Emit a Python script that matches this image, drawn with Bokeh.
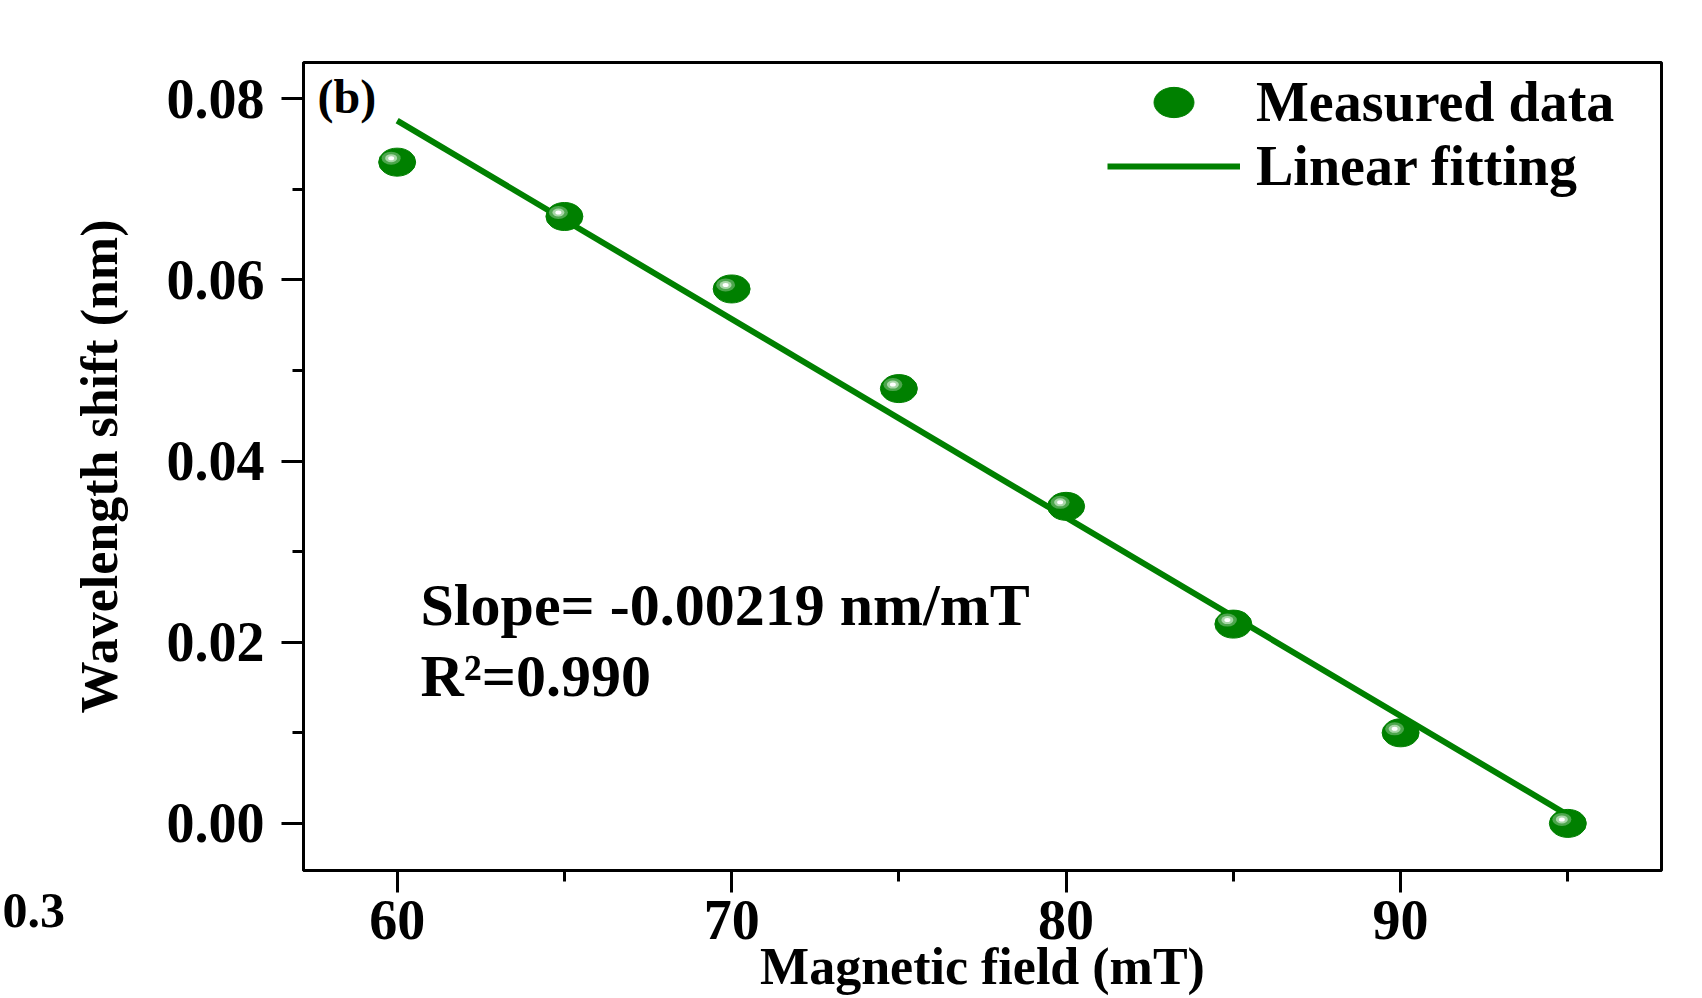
import numpy as np
from bokeh.plotting import figure
from bokeh.models import (Range1d, FixedTicker, NumeralTickFormatter, Label,
                          Legend, LegendItem)
from bokeh.embed import file_html
from bokeh.resources import INLINE

# ---------------- data ----------------
magnetic_field = [60, 65, 70, 75, 80, 85, 90, 95]          # mT
wavelength_shift = [0.073, 0.067, 0.059, 0.048, 0.035, 0.022, 0.010, 0.000]  # nm
x_ticks = [60, 70, 80, 90]
x_minor_ticks = [65, 75, 85, 95]
y_ticks = [0.00, 0.02, 0.04, 0.06, 0.08]
y_minor_ticks = [0.01, 0.03, 0.05, 0.07]
x_label = "Magnetic field (mT)"
y_label = "Wavelength shift (nm)"
legend_labels = ["Measured data", "Linear fitting"]
slope_text = "Slope= -0.00219 nm/mT"
r2_text = "R\u00b2=0.990"
panel_tag = "(b)"
neighbor_tick = "0.3"

# ---------------- style ----------------
FONT = "Liberation Serif"
GREEN = "#008000"
X0, X1 = 57.2, 97.8
Y0, Y1 = -0.0052, 0.0840
FW, FH = 1358, 808
BL, BR, BT, BB = 303, 41, 62, 128

p = figure(width=BL + FW + BR, height=BT + FH + BB,
           x_range=Range1d(X0, X1), y_range=Range1d(Y0, Y1),
           output_backend="svg", toolbar_location=None,
           min_border_left=BL, min_border_right=BR,
           min_border_top=BT, min_border_bottom=BB)
p.background_fill_color = "white"
p.border_fill_color = "white"
p.xgrid.grid_line_color = None
p.ygrid.grid_line_color = None
p.outline_line_color = "black"
p.outline_line_width = 3

p.xaxis.ticker = FixedTicker(ticks=x_ticks, minor_ticks=x_minor_ticks)
p.yaxis.ticker = FixedTicker(ticks=y_ticks, minor_ticks=y_minor_ticks)
p.yaxis.formatter = NumeralTickFormatter(format="0.00")

for ax in (p.xaxis[0], p.yaxis[0]):
    ax.axis_line_width = 3
    ax.axis_line_color = "black"
    ax.major_tick_line_width = 3
    ax.minor_tick_line_width = 3
    ax.major_tick_in = 0
    ax.minor_tick_in = 0
    ax.major_tick_out = 22
    ax.minor_tick_out = 11
    ax.major_label_text_font = FONT
    ax.major_label_text_font_style = "bold"
    ax.major_label_text_font_size = "56px"
    ax.major_label_text_color = "black"
    ax.axis_label_text_font = FONT
    ax.axis_label_text_font_style = "bold"
    ax.axis_label_text_color = "black"

p.xaxis.major_label_standoff = 8
p.xaxis.axis_label = x_label
p.xaxis.axis_label_text_font_size = "52px"
p.xaxis.axis_label_standoff = -4

p.yaxis.major_label_standoff = 17
p.yaxis.axis_label = y_label
p.yaxis.axis_label_text_font_size = "52px"
p.yaxis.axis_label_standoff = 36

# ---------------- marks ----------------
fit = np.polyfit(magnetic_field, wavelength_shift, 1)
fit_x = [min(magnetic_field), max(magnetic_field)]
fit_y = list(np.polyval(fit, fit_x))

fit_line = p.line(fit_x, fit_y, line_color=GREEN, line_width=6)

dots = p.ellipse(magnetic_field, wavelength_shift, width=37, height=28,
                 width_units="screen", height_units="screen",
                 fill_color=GREEN, line_color=GREEN, line_width=1)

# specular highlight (screen offsets converted to data units)
dx = -6 * (X1 - X0) / FW
dy = 4 * (Y1 - Y0) / FH
hx = [v + dx for v in magnetic_field]
hy = [v + dy for v in wavelength_shift]
p.ellipse(hx, hy, width=19, height=13, width_units="screen",
          height_units="screen", fill_color="#4da64d", line_color=None)
p.ellipse(hx, hy, width=12, height=8, width_units="screen",
          height_units="screen", fill_color="#a8d6a8", line_color=None)
p.ellipse(hx, hy, width=6, height=4, width_units="screen",
          height_units="screen", fill_color="#ffffff", line_color=None)

legend = Legend(items=[LegendItem(label=legend_labels[0], renderers=[dots]),
                       LegendItem(label=legend_labels[1], renderers=[fit_line])],
                location=(804, 672), glyph_width=133, glyph_height=50,
                label_standoff=16, label_text_font=FONT,
                label_text_font_style="bold", label_text_font_size="56px",
                label_text_color="black", border_line_alpha=0,
                background_fill_alpha=0, padding=0, margin=0, spacing=0)
p.add_layout(legend)

common = dict(x_units="screen", y_units="screen", text_font=FONT,
              text_font_style="bold", text_color="black",
              text_baseline="alphabetic")
p.add_layout(Label(x=117, y=266, text=slope_text, text_font_size="60px", **common))
p.add_layout(Label(x=117, y=195, text=r2_text, text_font_size="60px", **common))
p.add_layout(Label(x=14, y=774, text=panel_tag, text_font_size="48px", **common))
# fragment of the neighbouring panel's tick label, outside the frame
p.add_layout(Label(x=-2, y=-40, text=neighbor_tick, text_font_size="50px",
                   **common), "left")

open("out.html", "w").write(file_html(p, INLINE))
